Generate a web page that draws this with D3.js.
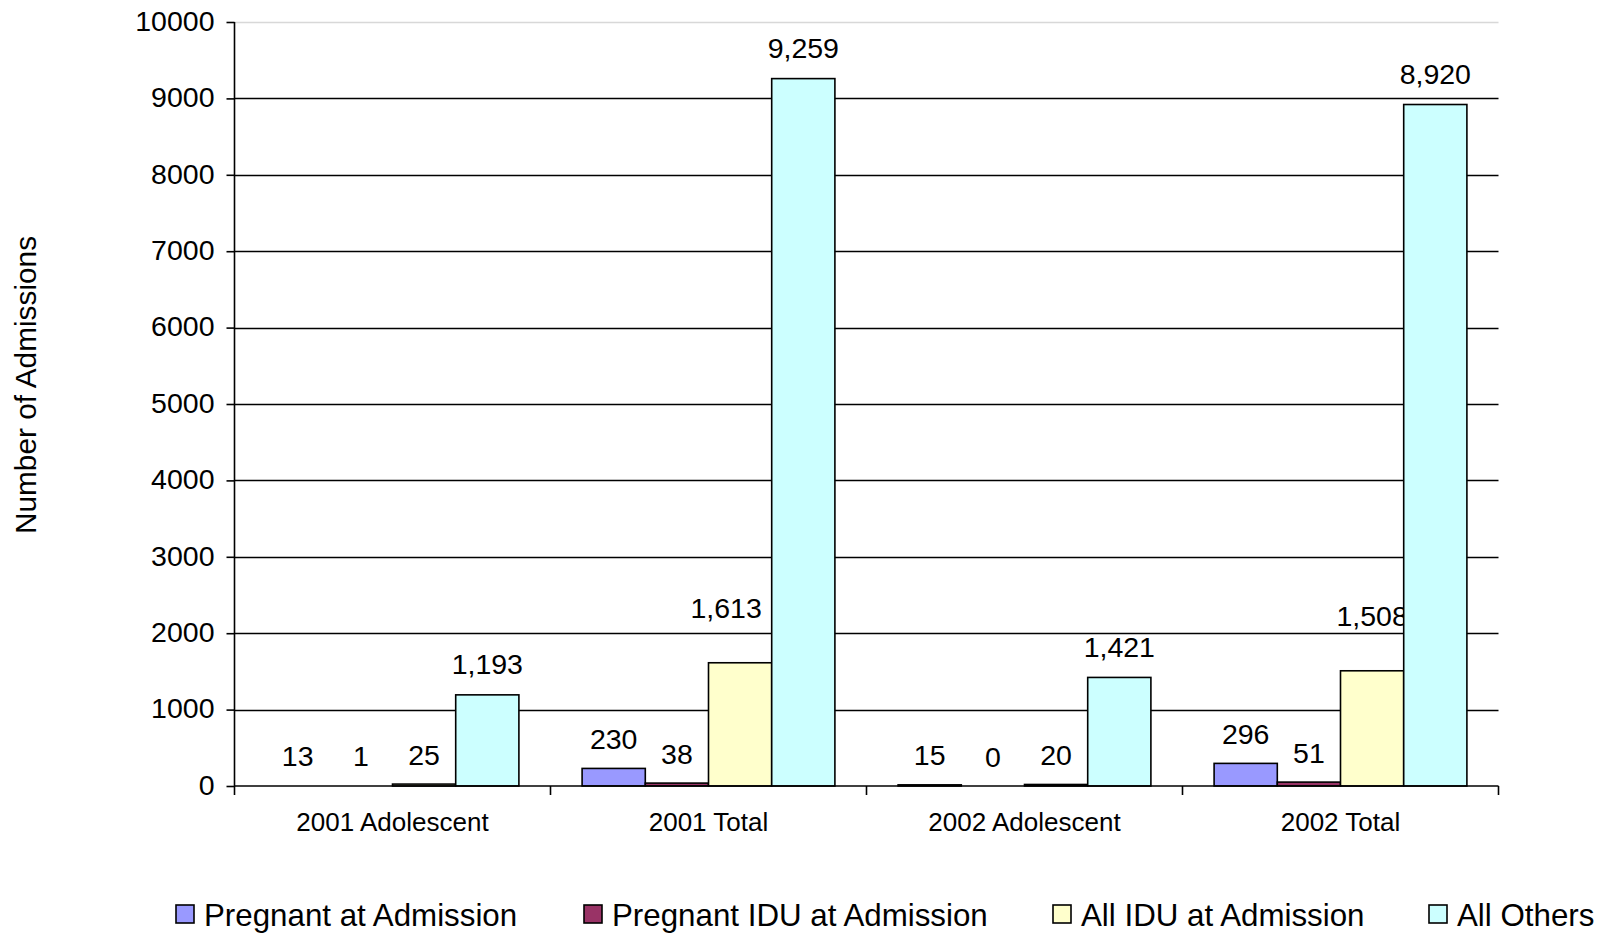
<!DOCTYPE html>
<html>
<head>
<meta charset="utf-8">
<script src="https://cdn.jsdelivr.net/npm/d3@7/dist/d3.min.js"></script>
<style>
  html, body { margin: 0; padding: 0; background: #fff; }
  svg { display: block; font-family: "Liberation Sans", Arial, sans-serif; }
</style>
</head>
<body>
<svg id="chart" width="1598" height="934"></svg>
<script>
// Admissions by group
const categories = ["2001 Adolescent", "2001 Total", "2002 Adolescent", "2002 Total"];
const seriesNames = ["Pregnant at Admission", "Pregnant IDU at Admission", "All IDU at Admission", "All Others"];
const pregnantAtAdmission = [13, 230, 15, 296];
const pregnantIDU = [1, 38, 0, 51];
const allIDU = [25, 1613, 20, 1508];
const allOthers = [1193, 9259, 1421, 8920];
const yTicks = [0, 1000, 2000, 3000, 4000, 5000, 6000, 7000, 8000, 9000, 10000];
const seriesColors = ["#9999FF", "#993366", "#FFFFCC", "#CCFFFF"];

const seriesValues = [pregnantAtAdmission, pregnantIDU, allIDU, allOthers];

const svg = d3.select("#chart");
const plot = { left: 234.5, right: 1498.5, top: 22, bottom: 786 };

const y = d3.scaleLinear().domain([0, 10000]).range([plot.bottom, plot.top]);
const x0 = d3.scaleBand().domain(categories).range([plot.left, plot.right]).padding(0);
const x1 = d3.scaleBand().domain(seriesNames)
  .range([x0.bandwidth() * 0.1, x0.bandwidth() * 0.9]).padding(0);

// label placement tweaks: the tall IDU labels sit higher, clear of the neighbouring bar
function labelShift(si, ci, v) {
  let dx = 0, dy = 0;
  if (si === 2 && v > 1000) dy = -24;
  if (si === 2 && ci === 1) dx = -14;
  return { dx, dy };
}

// horizontal gridlines
svg.append("g").selectAll("line")
  .data(yTicks.filter(t => t > 0))
  .join("line")
  .attr("x1", plot.left).attr("x2", plot.right)
  .attr("y1", d => Math.round(y(d)) + 0.5).attr("y2", d => Math.round(y(d)) + 0.5)
  .attr("stroke", d => d === 10000 ? "#d8d8d8" : "#000")
  .attr("stroke-width", d => d === 10000 ? 1.5 : 1.4);

// bars and value labels, series by series; bars under one pixel tall are not drawn
const fmt = d3.format(",");
seriesNames.forEach((name, si) => {
  const g = svg.append("g");
  const rows = categories.map((c, ci) => ({ c, ci, v: seriesValues[si][ci] }));
  g.selectAll("rect")
    .data(rows.filter(d => y(0) - y(d.v) >= 1))
    .join("rect")
    .attr("x", d => x0(d.c) + x1(name))
    .attr("width", x1.bandwidth())
    .attr("y", d => y(d.v))
    .attr("height", d => y(0) - y(d.v))
    .attr("fill", seriesColors[si])
    .attr("stroke", "#000")
    .attr("stroke-width", 1.6);
  g.selectAll("text")
    .data(rows)
    .join("text")
    .attr("x", d => x0(d.c) + x1(name) + x1.bandwidth() / 2 + labelShift(si, d.ci, d.v).dx)
    .attr("y", d => y(d.v) - (d.v < 500 ? 19.5 : 20.5) + labelShift(si, d.ci, d.v).dy)
    .attr("text-anchor", "middle")
    .attr("font-size", 28.5)
    .attr("fill", "#000")
    .text(d => fmt(d.v));
});

// y axis
const yAxis = svg.append("g")
  .attr("transform", `translate(${plot.left},0)`)
  .call(d3.axisLeft(y).tickValues(yTicks).tickSize(8).tickPadding(12).tickFormat(d3.format("d")));
yAxis.select(".domain").attr("stroke", "#000").attr("stroke-width", 1.6)
  .attr("d", `M0,${plot.top}V${plot.bottom}`);
yAxis.selectAll(".tick line").attr("stroke", "#000").attr("stroke-width", 1.6);
yAxis.selectAll(".tick text")
  .attr("font-size", 28.5)
  .attr("font-family", "Liberation Sans, Arial, sans-serif")
  .attr("fill", "#000")
  .attr("dy", "0.29em");

// x axis: ticks at category boundaries
const xAxis = svg.append("g");
xAxis.append("line")
  .attr("x1", plot.left).attr("x2", plot.right)
  .attr("y1", plot.bottom).attr("y2", plot.bottom)
  .attr("stroke", "#000").attr("stroke-width", 1.6);
const boundaries = categories.map(c => x0(c)).concat([x0(categories[categories.length - 1]) + x0.bandwidth()]);
xAxis.selectAll("line.tick")
  .data(boundaries)
  .join("line")
  .attr("class", "tick")
  .attr("x1", d => d).attr("x2", d => d)
  .attr("y1", plot.bottom).attr("y2", plot.bottom + 9)
  .attr("stroke", "#000").attr("stroke-width", 1.6);
xAxis.selectAll("text")
  .data(categories)
  .join("text")
  .attr("x", d => x0(d) + x0.bandwidth() / 2)
  .attr("y", 831)
  .attr("text-anchor", "middle")
  .attr("font-size", 26)
  .attr("fill", "#000")
  .text(d => d);

// y axis title
svg.append("text")
  .attr("transform", "translate(36,385) rotate(-90)")
  .attr("text-anchor", "middle")
  .attr("font-size", 29.8)
  .attr("fill", "#000")
  .text("Number of Admissions");

// legend
const legendX = [176, 584, 1053, 1429];
const legend = svg.append("g");
const items = legend.selectAll("g")
  .data(seriesNames)
  .join("g")
  .attr("transform", (d, i) => `translate(${legendX[i]},0)`);
items.append("rect")
  .attr("x", 0).attr("y", 905)
  .attr("width", 18).attr("height", 18)
  .attr("fill", (d, i) => seriesColors[i])
  .attr("stroke", "#000").attr("stroke-width", 1.6);
items.append("text")
  .attr("x", 28).attr("y", 926)
  .attr("font-size", 31.3)
  .attr("fill", "#000")
  .text(d => d);
</script>
</body>
</html>
